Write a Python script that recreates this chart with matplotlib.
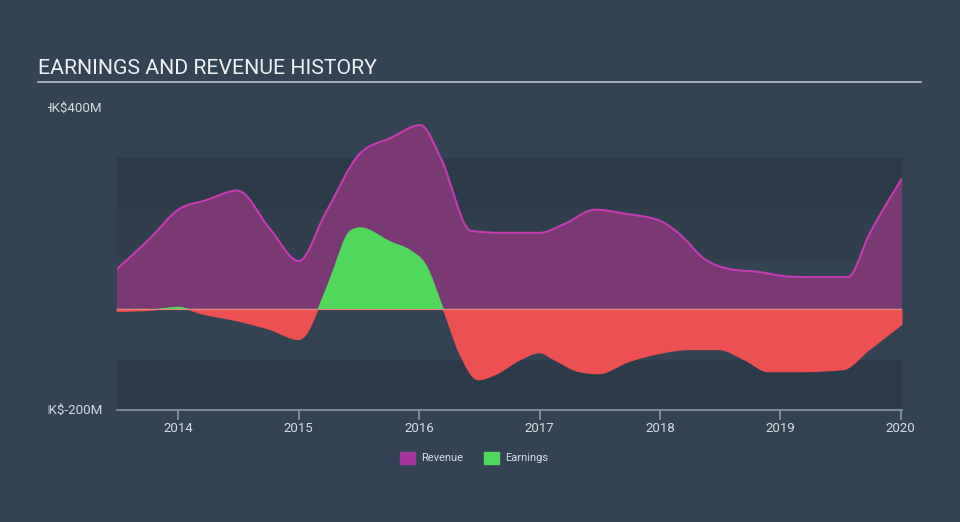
import matplotlib
matplotlib.use("Agg")
import matplotlib.pyplot as plt
import numpy as np
from matplotlib.path import Path
from matplotlib.patches import PathPatch, Rectangle
from matplotlib.transforms import Bbox

plt.rcParams['font.family'] = ['Roboto', 'DejaVu Sans']

BG = '#344354'
BAND = '#2d3a49'
REV_FILL = '#7a3874'
REV_LINE = '#c23bb0'
EARN_POS = '#4fd85a'
EARN_NEG = '#ec5050'
TEXT = '#d5dae0'

# values (years, HK$ millions)
rev_years = [2013.49, 2013.76, 2014.01, 2014.22, 2014.49, 2014.76, 2015.00, 2015.22,
             2015.51, 2015.76, 2016.01, 2016.18, 2016.43, 2016.68, 2017.00, 2017.21,
             2017.46, 2017.71, 2018.00, 2018.16, 2018.37, 2018.58, 2018.83, 2019.03,
             2019.24, 2019.56, 2019.74, 2020.01]
revenue = [80, 140, 200, 216, 236, 160, 96, 190,
           310, 340, 366, 300, 156, 152, 152, 170,
           198, 190, 176, 150, 100, 80, 74, 66,
           64, 64, 150, 260]

earn_years = [2013.49, 2013.76, 2014.00, 2014.18, 2014.51, 2014.76, 2015.00, 2015.06,
              2015.16, 2015.26, 2015.43, 2015.51, 2015.76, 2015.93, 2016.05, 2016.20,
              2016.34, 2016.49, 2016.63, 2016.84, 2017.00, 2017.12, 2017.33, 2017.49,
              2017.74, 2017.99, 2018.24, 2018.49, 2018.70, 2018.90, 2019.15, 2019.52,
              2019.74, 2020.01]
earnings = [-4, -2, 4, -8, -24, -40, -60, -50,
            0, 60, 156, 162, 134, 116, 90, 0,
            -90, -140, -130, -100, -86, -100, -124, -128,
            -104, -88, -80, -80, -100, -124, -124, -120,
            -80, -30]

years = [2014, 2015, 2016, 2017, 2018, 2019, 2020]


def monotone_path(xs, ys):
    # monotone-x cubic bezier through the points (same idea as d3 curveMonotoneX)
    xs = np.asarray(xs, float)
    ys = np.asarray(ys, float)
    n = len(xs)
    h = np.diff(xs)
    s = np.diff(ys) / h
    t = np.zeros(n)
    for i in range(1, n - 1):
        p = (s[i - 1] * h[i] + s[i] * h[i - 1]) / (h[i - 1] + h[i])
        t[i] = (np.sign(s[i - 1]) + np.sign(s[i])) * min(abs(s[i - 1]), abs(s[i]), 0.5 * abs(p))
    t[0] = (3 * s[0] - t[1]) / 2
    t[-1] = (3 * s[-1] - t[-2]) / 2
    verts = [(xs[0], ys[0])]
    codes = [Path.MOVETO]
    for i in range(n - 1):
        dx = h[i] / 3
        verts += [(xs[i] + dx, ys[i] + dx * t[i]),
                  (xs[i + 1] - dx, ys[i + 1] - dx * t[i + 1]),
                  (xs[i + 1], ys[i + 1])]
        codes += [Path.CURVE4] * 3
    return verts, codes


def area_path(xs, ys):
    verts, codes = monotone_path(xs, ys)
    verts = verts + [(xs[-1], 0), (xs[0], 0), (xs[0], ys[0])]
    codes = codes + [Path.LINETO, Path.LINETO, Path.CLOSEPOLY]
    return Path(verts, codes)


fig = plt.figure(figsize=(9.6, 5.22), dpi=100, facecolor=BG)
ax = fig.add_axes([117 / 960, 112 / 522, 785 / 960, 302 / 522])
ax.set_facecolor(BG)
ax.set_xlim(2013.49, 2020.01)
ax.set_ylim(-200, 400)

for lo, hi in [(200, 300), (-200, -100)]:
    ax.axhspan(lo, hi, color=BAND, lw=0, zorder=0)
ax.axhspan(100, 200, color='#303e4e', lw=0, zorder=0)

ax.add_patch(PathPatch(area_path(rev_years, revenue), facecolor=REV_FILL, lw=0, zorder=2))
rv, rc = monotone_path(rev_years, revenue)
ax.add_patch(PathPatch(Path(rv, rc), facecolor='none', edgecolor=REV_LINE, lw=1.5, zorder=3))

earn_area = area_path(earn_years, earnings)
for col, lo, hi in [(EARN_POS, 0, 500), (EARN_NEG, -500, 0)]:
    patch = PathPatch(earn_area, facecolor=col, edgecolor=col, lw=0.8, zorder=4)
    ax.add_patch(patch)
    clip = Rectangle((2013, lo), 8, hi - lo, transform=ax.transData, visible=False)
    ax.add_patch(clip)
    patch.set_clip_path(clip)
ax.axhline(0, color='#f08080', lw=0.8, zorder=5)

for s in ['top', 'right', 'left']:
    ax.spines[s].set_visible(False)
ax.spines['bottom'].set_color('#8996a4')
ax.spines['bottom'].set_linewidth(1.2)
ax.set_yticks([])
ax.set_xticks(years)
ax.set_xticklabels([str(y) for y in years])
ax.tick_params(axis='x', colors='#8996a4', length=7, width=1.2, labelsize=9.5,
               labelcolor=TEXT, pad=2)

clipbox = Bbox.from_extents(48, 0, 960, 522)
for val, label in [(400, 'HK$400M'), (-200, 'HK$-200M')]:
    t = ax.text(103 / 960, (522 - (310 - val * 0.503)) / 522, label,
                transform=fig.transFigure, ha='right', va='center',
                color=TEXT, fontsize=9.6)
    t.set_clip_box(clipbox)
    t.set_clip_on(True)

fig.text(38 / 960, 1 - 68 / 522, 'EARNINGS AND REVENUE HISTORY', color='#eef0f3',
         fontsize=15.3, ha='left', va='center')
fig.add_artist(plt.Line2D([38 / 960, 921 / 960], [1 - 82 / 522] * 2,
                          transform=fig.transFigure, color='#b8bfc7', lw=1.2))

# legend
for x0, col, lab in [(400, '#a5359a', 'Revenue'), (484, EARN_POS, 'Earnings')]:
    fig.patches.append(Rectangle((x0 / 960, 1 - 464 / 522), 15 / 960, 12 / 522,
                                 transform=fig.transFigure, color=col))
    fig.text((x0 + 21) / 960, 1 - 458 / 522, lab, color=TEXT, fontsize=8,
             ha='left', va='center')

fig.savefig('out.png', dpi=100, facecolor=BG)
